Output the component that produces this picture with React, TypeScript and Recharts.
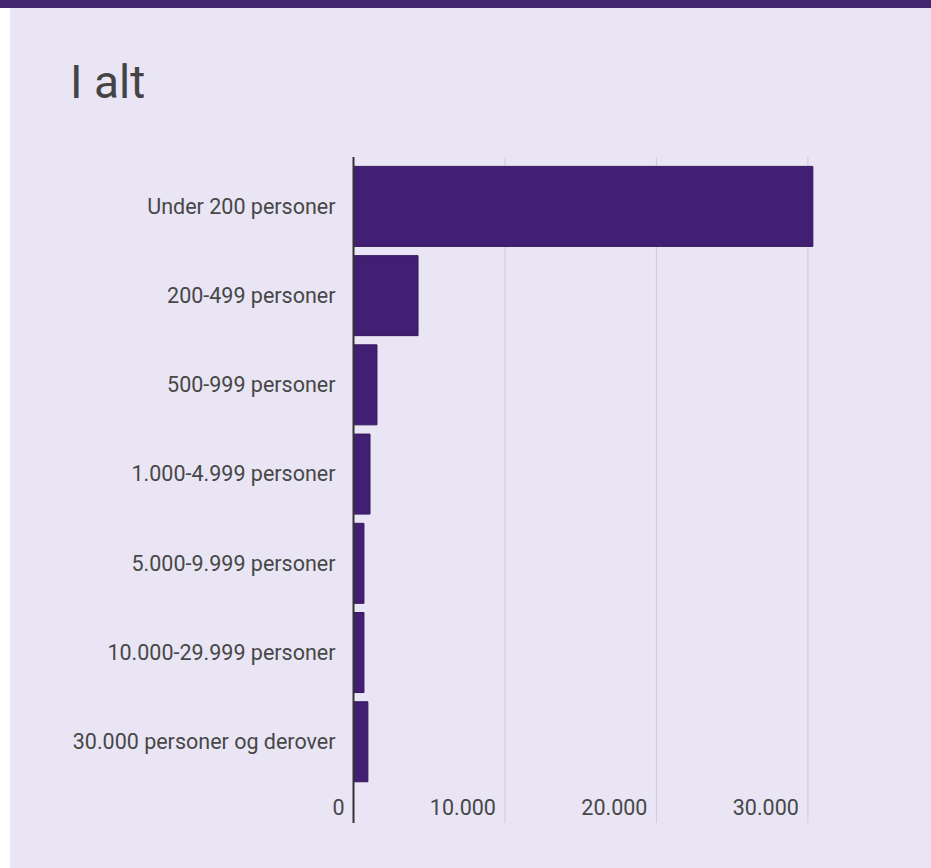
import React from "react";
import { BarChart, Bar, XAxis, YAxis, CartesianGrid } from "recharts";

const categories = [
  "Under 200 personer",
  "200-499 personer",
  "500-999 personer",
  "1.000-4.999 personer",
  "5.000-9.999 personer",
  "10.000-29.999 personer",
  "30.000 personer og derover",
];
const values = [30330, 4260, 1550, 1090, 690, 690, 950];
const xTicks = [0, 10000, 20000, 30000];
const xTickLabels = ["0", "10.000", "20.000", "30.000"];
const title = "I alt";

const data = categories.map((c, i) => ({ name: c, value: values[i] }));

const FONT = "Roboto, 'Noto Sans', sans-serif";
const TEXT = "#474747";

const XTick = (props: any) => {
  const { x, y, payload } = props;
  const idx = xTicks.indexOf(payload.value);
  const label = idx >= 0 ? xTickLabels[idx] : String(payload.value);
  return (
    <text x={x - 9} y={y - 8} textAnchor="end" fill={TEXT} fontSize={21.5} fontFamily={FONT}>
      {label}
    </text>
  );
};

export default function App() {
  return (
    <div style={{ position: "absolute", left: 0, top: 0, width: 931, height: 868, background: "#ffffff", overflow: "hidden" }}>
      <div style={{ position: "absolute", left: 0, top: 0, width: 931, height: 8, background: "#42266F" }} />
      <div style={{ position: "absolute", left: 10, top: 8, width: 921, height: 860, background: "#E9E5F5" }} />
      <div
        style={{
          position: "absolute",
          left: 70,
          top: 59,
          fontFamily: FONT,
          fontSize: 46,
          lineHeight: "46px",
          color: "#444444",
          whiteSpace: "nowrap",
        }}
      >
        {title}
      </div>
      <div style={{ position: "absolute", left: 0, top: 0 }}>
        <BarChart
          width={931}
          height={868}
          data={data}
          layout="vertical"
          margin={{ top: 157, right: 108, bottom: 15, left: 0 }}
        >
          <CartesianGrid horizontal={false} vertical={true} syncWithTicks={true} stroke="#cfcbd6" strokeWidth={1} />
          <XAxis
            type="number"
            domain={[0, 31000]}
            ticks={xTicks}
            axisLine={false}
            tickLine={false}
            tickSize={0}
            tickMargin={0}
            height={30}
            interval={0}
            tick={<XTick />}
          />
          <YAxis
            type="category"
            dataKey="name"
            width={353.5}
            padding={{ top: 4.4, bottom: 37 }}
            axisLine={{ stroke: "#333333", strokeWidth: 2 }}
            tickLine={false}
            tickSize={0}
            tickMargin={18}
            interval={0}
            tick={{ fill: TEXT, fontSize: 21.5, fontFamily: FONT }}
          />
          <Bar dataKey="value" fill="#421F72" stroke="#35185E" strokeWidth={1} barSize={80} isAnimationActive={false} />
        </BarChart>
      </div>
    </div>
  );
}
